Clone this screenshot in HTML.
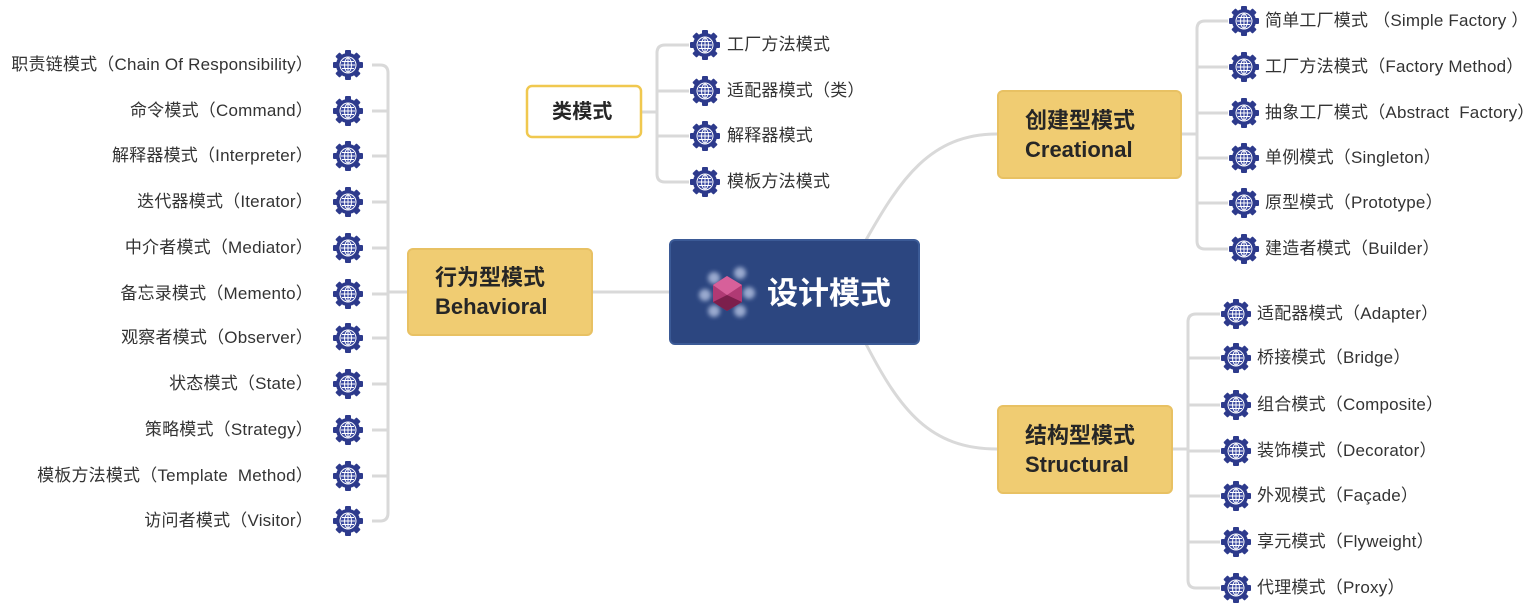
<!DOCTYPE html>
<html><head><meta charset="utf-8"><style>
body{margin:0;width:1537px;height:613px;background:#fff;position:relative;overflow:hidden;font-family:"Liberation Sans","Noto Sans CJK SC",sans-serif;}
.t{position:absolute;font-size:17px;color:#333;white-space:nowrap;line-height:20px;letter-spacing:0.2px;}
.r{text-align:right;}
.box{position:absolute;background:#f0cc72;border:2px solid #e8c163;border-radius:6px;box-sizing:border-box;font-weight:bold;color:#262626;font-size:22px;line-height:29px;padding-left:26px;display:flex;flex-direction:column;justify-content:center;}
svg{position:absolute;left:0;top:0;}
</style></head><body>
<svg width="1537" height="613">
<defs>
<filter id="bl"><feGaussianBlur stdDeviation="2"/></filter>
<g id="g">
<g fill="#2d3a8c">
<circle r="12"/>
<rect x="-3" y="-15" width="6" height="30" rx="1"/>
<rect x="-15" y="-3" width="30" height="6" rx="1"/>
<rect x="-3" y="-15" width="6" height="30" rx="1" transform="rotate(45)"/>
<rect x="-3" y="-15" width="6" height="30" rx="1" transform="rotate(-45)"/>
</g>
<circle r="8.5" fill="#fff"/>
<circle r="7.5" fill="#3b4aa0"/>
<g stroke="#fff" stroke-width="1" fill="none"><ellipse rx="3.5" ry="7"/><line x1="-7" y1="0" x2="7" y2="0"/><line x1="0" y1="-7" x2="0" y2="7"/><line x1="-6" y1="-3.5" x2="6" y2="-3.5"/><line x1="-6" y1="3.5" x2="6" y2="3.5"/></g>
</g>
</defs>
<g stroke="#d9d9d9" stroke-width="3" fill="none">
<path d="M592 292 H670"/>
<path d="M866 240 C900 180,930 134,997 134"/>
<path d="M866 344 C900 410,930 449,997 449"/>
<path d="M407 292 H388"/>
<path d="M372 65 H380 Q388 65 388 73 V513 Q388 521 380 521 H372"/>
<path d="M372 111H388M372 156H388M372 202H388M372 248H388M372 294H388M372 338H388M372 384H388M372 430H388M372 476H388"/>
<path d="M641 112 H657"/>
<path d="M689 45 H665 Q657 45 657 53 V174 Q657 182 665 182 H689 M657 91H689 M657 136H689"/>
<path d="M1181 134 H1197"/>
<path d="M1228 21 H1205 Q1197 21 1197 29 V241 Q1197 249 1205 249 H1228 M1197 67H1228 M1197 113H1228 M1197 158H1228 M1197 203H1228"/>
<path d="M1172 449 H1188"/>
<path d="M1220 314 H1196 Q1188 314 1188 322 V580 Q1188 588 1196 588 H1220 M1188 358H1220 M1188 405H1220 M1188 451H1220 M1188 496H1220 M1188 542H1220"/>
</g>
<g>
<use href="#g" x="348" y="65"/><use href="#g" x="348" y="111"/><use href="#g" x="348" y="156"/><use href="#g" x="348" y="202"/><use href="#g" x="348" y="248"/><use href="#g" x="348" y="294"/><use href="#g" x="348" y="338"/><use href="#g" x="348" y="384"/><use href="#g" x="348" y="430"/><use href="#g" x="348" y="476"/><use href="#g" x="348" y="521"/>
<use href="#g" x="705" y="45"/><use href="#g" x="705" y="91"/><use href="#g" x="705" y="136"/><use href="#g" x="705" y="182"/>
<use href="#g" x="1244" y="21"/><use href="#g" x="1244" y="67"/><use href="#g" x="1244" y="113"/><use href="#g" x="1244" y="158"/><use href="#g" x="1244" y="203"/><use href="#g" x="1244" y="249"/>
<use href="#g" x="1236" y="314"/><use href="#g" x="1236" y="358"/><use href="#g" x="1236" y="405"/><use href="#g" x="1236" y="451"/><use href="#g" x="1236" y="496"/><use href="#g" x="1236" y="542"/><use href="#g" x="1236" y="588"/>
</g>
<rect x="670" y="240" width="249" height="104" rx="5" fill="#2c4680" stroke="#3b5a96" stroke-width="2"/>
<g fill="#c8d4f0" opacity="0.7" filter="url(#bl)"><circle cx="714" cy="278" r="6"/><circle cx="740" cy="273" r="6"/><circle cx="749" cy="293" r="6"/><circle cx="740" cy="311" r="6"/><circle cx="714" cy="311" r="6"/><circle cx="705" cy="295" r="6"/></g>
<polygon points="727,276 742,285 742,302 727,311 713,302 713,285" fill="#b03a74"/>
<polygon points="727,276 742,285 727,295 713,285" fill="#d7609a"/>
<polygon points="727,295 742,302 727,311 713,302" fill="#7c1f4c"/>
<rect x="527" y="86" width="114" height="51" rx="5" fill="#fff" stroke="#f0c84f" stroke-width="2.5"/>
</svg>
<div class="t" style="left:767px;top:275px;font-size:31px;line-height:38px;color:#fff;font-weight:bold;letter-spacing:0;">设计模式</div>
<div class="t" style="left:552px;top:101px;font-size:20px;line-height:22px;font-weight:bold;color:#262626;">类模式</div>
<div class="box" style="left:407px;top:248px;width:186px;height:88px;">行为型模式<br>Behavioral</div>
<div class="box" style="left:997px;top:90px;width:185px;height:89px;">创建型模式<br>Creational</div>
<div class="box" style="left:997px;top:405px;width:176px;height:89px;">结构型模式<br>Structural</div>
<div class="t r" style="right:1224px;top:55px;">职责链模式（Chain Of Responsibility）</div>
<div class="t r" style="right:1224px;top:101px;">命令模式（Command）</div>
<div class="t r" style="right:1224px;top:146px;">解释器模式（Interpreter）</div>
<div class="t r" style="right:1224px;top:192px;">迭代器模式（Iterator）</div>
<div class="t r" style="right:1224px;top:238px;">中介者模式（Mediator）</div>
<div class="t r" style="right:1224px;top:284px;">备忘录模式（Memento）</div>
<div class="t r" style="right:1224px;top:328px;">观察者模式（Observer）</div>
<div class="t r" style="right:1224px;top:374px;">状态模式（State）</div>
<div class="t r" style="right:1224px;top:420px;">策略模式（Strategy）</div>
<div class="t r" style="right:1224px;top:466px;">模板方法模式（Template&nbsp; Method）</div>
<div class="t r" style="right:1224px;top:511px;">访问者模式（Visitor）</div>
<div class="t" style="left:727px;top:35px;">工厂方法模式</div>
<div class="t" style="left:727px;top:81px;">适配器模式（类）</div>
<div class="t" style="left:727px;top:126px;">解释器模式</div>
<div class="t" style="left:727px;top:172px;">模板方法模式</div>
<div class="t" style="left:1265px;top:11px;">简单工厂模式 （Simple Factory ）</div>
<div class="t" style="left:1265px;top:57px;">工厂方法模式（Factory Method）</div>
<div class="t" style="left:1265px;top:103px;">抽象工厂模式（Abstract&nbsp; Factory）</div>
<div class="t" style="left:1265px;top:148px;">单例模式（Singleton）</div>
<div class="t" style="left:1265px;top:193px;">原型模式（Prototype）</div>
<div class="t" style="left:1265px;top:239px;">建造者模式（Builder）</div>
<div class="t" style="left:1257px;top:304px;">适配器模式（Adapter）</div>
<div class="t" style="left:1257px;top:348px;">桥接模式（Bridge）</div>
<div class="t" style="left:1257px;top:395px;">组合模式（Composite）</div>
<div class="t" style="left:1257px;top:441px;">装饰模式（Decorator）</div>
<div class="t" style="left:1257px;top:486px;">外观模式（Façade）</div>
<div class="t" style="left:1257px;top:532px;">享元模式（Flyweight）</div>
<div class="t" style="left:1257px;top:578px;">代理模式（Proxy）</div>
</body></html>
